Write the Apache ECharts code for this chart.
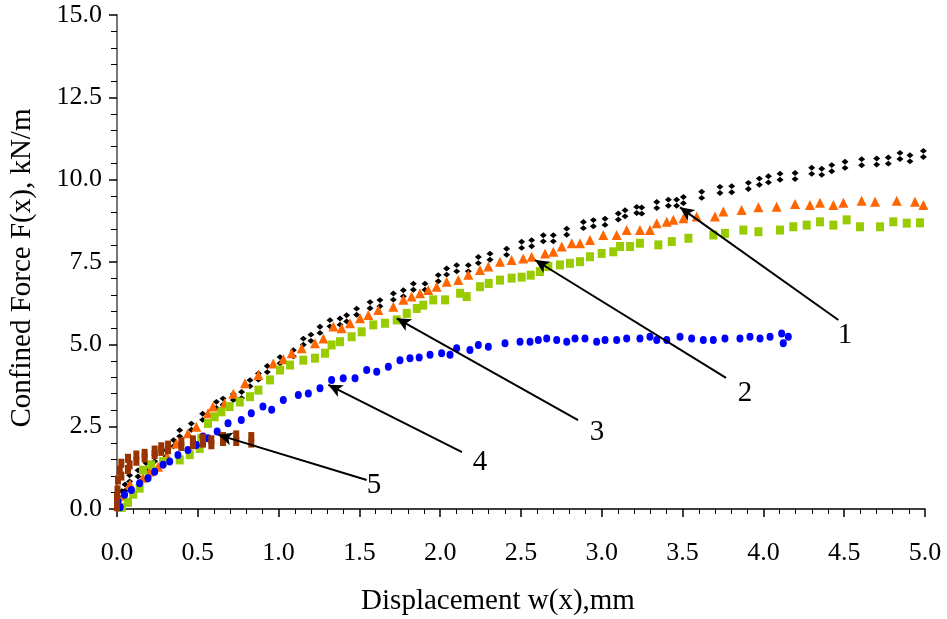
<!DOCTYPE html>
<html>
<head>
<meta charset="utf-8">
<script src="https://cdn.jsdelivr.net/npm/echarts@6/dist/echarts.min.js"></script>
<style>html,body{margin:0;padding:0;background:#fff}#c{width:947px;height:619px}</style>
</head>
<body>
<div id="c"></div>
<script>
// ---- data ----
var xTicks = [0, 0.5, 1.0, 1.5, 2.0, 2.5, 3.0, 3.5, 4.0, 4.5, 5.0];
var yTicks = [0, 2.5, 5.0, 7.5, 10.0, 12.5, 15.0];
var xTitle = 'Displacement w(x),mm';
var yTitle = 'Confined Force F(x), kN/m';

var s1 = [[0.01,0.15],[0.03,0.45],[0.05,0.65],[0.078,0.93],[0.13,1.08],[0.18,1.30],[0.233,1.54],[0.305,1.69],[0.35,2.0],[0.388,2.30],[0.46,2.50],[0.53,2.80],[0.615,3.16],[0.656,3.26],[0.72,3.40],[0.771,3.46],[0.823,3.82],[0.875,4.02],[0.93,4.25],[1.009,4.52],[1.091,4.73],[1.153,5.08],[1.2,5.2],[1.256,5.44],[1.318,5.64],[1.380,5.69],[1.421,5.79],[1.483,5.99],[1.566,6.19],[1.627,6.25],[1.710,6.45],[1.772,6.55],[1.834,6.75],[1.906,6.75],[1.988,7.01],[2.040,7.21],[2.102,7.31],[2.174,7.31],[2.236,7.56],[2.308,7.66],[2.411,7.81],[2.504,8.02],[2.566,8.07],[2.638,8.22],[2.700,8.22],[2.783,8.42],[2.886,8.62],[2.948,8.68],[3.020,8.72],[3.102,8.88],[3.144,8.98],[3.216,9.08],[3.247,9.06],[3.340,9.23],[3.412,9.30],[3.463,9.30],[3.505,9.38],[3.618,9.54],[3.731,9.69],[3.804,9.71],[3.907,9.81],[3.975,9.94],[4.031,10.01],[4.103,10.09],[4.196,10.11],[4.299,10.27],[4.361,10.24],[4.423,10.35],[4.505,10.45],[4.608,10.53],[4.701,10.55],[4.773,10.58],[4.845,10.72],[4.907,10.65],[4.990,10.78]];
var s2 = [[0.01,0.1],[0.04,0.4],[0.08,0.75],[0.161,0.95],[0.202,1.13],[0.254,1.28],[0.31,1.6],[0.367,1.99],[0.439,2.30],[0.491,2.50],[0.563,2.91],[0.594,3.11],[0.666,3.21],[0.72,3.5],[0.792,3.82],[0.875,4.07],[0.967,4.42],[1.03,4.55],[1.081,4.73],[1.143,4.88],[1.225,5.03],[1.277,5.18],[1.339,5.54],[1.390,5.49],[1.442,5.64],[1.504,5.79],[1.555,5.89],[1.617,6.04],[1.710,6.14],[1.772,6.35],[1.823,6.45],[1.875,6.55],[1.926,6.65],[1.978,6.75],[2.040,6.90],[2.112,6.95],[2.174,7.11],[2.246,7.26],[2.298,7.36],[2.370,7.51],[2.442,7.56],[2.514,7.61],[2.566,7.66],[2.649,7.76],[2.700,7.81],[2.752,7.97],[2.814,8.07],[2.865,8.07],[2.927,8.17],[3.009,8.32],[3.092,8.32],[3.154,8.47],[3.236,8.47],[3.298,8.47],[3.340,8.68],[3.402,8.72],[3.443,8.78],[3.505,8.83],[3.587,8.88],[3.700,8.88],[3.752,9.03],[3.865,9.08],[3.969,9.16],[4.082,9.18],[4.196,9.26],[4.288,9.23],[4.350,9.30],[4.433,9.23],[4.495,9.30],[4.608,9.36],[4.691,9.33],[4.825,9.36],[4.938,9.33],[4.990,9.23]];
var s3 = [[0.03,0.05],[0.068,0.2],[0.10,0.45],[0.140,0.63],[0.161,1.18],[0.212,1.34],[0.285,1.44],[0.388,1.49],[0.45,1.65],[0.512,1.84],[0.522,2.15],[0.563,2.60],[0.604,2.80],[0.646,2.95],[0.697,3.11],[0.76,3.25],[0.823,3.41],[0.875,3.61],[0.947,3.92],[1.009,4.22],[1.071,4.37],[1.153,4.52],[1.225,4.58],[1.287,4.73],[1.328,4.98],[1.380,5.08],[1.452,5.23],[1.514,5.38],[1.586,5.59],[1.658,5.64],[1.731,5.74],[1.793,5.94],[1.855,6.09],[1.895,6.19],[1.957,6.35],[2.030,6.35],[2.123,6.55],[2.164,6.45],[2.246,6.75],[2.30,6.85],[2.370,6.95],[2.442,7.01],[2.504,7.04],[2.56,7.10],[2.617,7.21],[2.669,7.36],[2.741,7.41],[2.803,7.46],[2.865,7.51],[2.927,7.66],[2.999,7.76],[3.071,7.81],[3.113,7.97],[3.175,7.97],[3.236,8.07],[3.350,8.02],[3.433,8.12],[3.536,8.22],[3.690,8.32],[3.762,8.37],[3.876,8.47],[3.969,8.42],[4.103,8.47],[4.185,8.57],[4.268,8.62],[4.350,8.72],[4.433,8.62],[4.515,8.78],[4.598,8.57],[4.722,8.57],[4.804,8.72],[4.887,8.68],[4.969,8.69]];
var s4 = [[0.006,0.22],[0.02,0.05],[0.047,0.43],[0.089,0.58],[0.140,0.78],[0.192,0.93],[0.233,1.13],[0.285,1.34],[0.326,1.44],[0.377,1.64],[0.439,1.79],[0.491,1.94],[0.532,2.20],[0.563,2.15],[0.62,2.35],[0.687,2.60],[0.769,2.70],[0.831,2.91],[0.903,3.11],[0.957,3.01],[1.029,3.31],[1.122,3.46],[1.184,3.51],[1.256,3.67],[1.328,3.92],[1.400,3.97],[1.473,3.97],[1.545,4.22],[1.607,4.17],[1.679,4.32],[1.751,4.52],[1.813,4.58],[1.870,4.60],[1.937,4.68],[2.009,4.73],[2.061,4.68],[2.102,4.88],[2.184,4.83],[2.236,4.98],[2.298,4.93],[2.401,5.03],[2.494,5.08],[2.556,5.08],[2.607,5.13],[2.659,5.18],[2.721,5.13],[2.783,5.08],[2.834,5.18],[2.896,5.18],[2.968,5.08],[3.020,5.13],[3.092,5.13],[3.154,5.18],[3.236,5.18],[3.298,5.23],[3.340,5.13],[3.402,5.13],[3.484,5.23],[3.556,5.18],[3.628,5.13],[3.690,5.13],[3.762,5.18],[3.855,5.18],[3.917,5.23],[3.979,5.18],[4.041,5.23],[4.113,5.33],[4.154,5.23],[4.123,5.03]];
var s5 = [[0.0,0.07],[0.0,0.35],[0.003,0.58],[0.006,0.88],[0.017,1.18],[0.027,1.39],[0.027,1.0],[0.068,1.54],[0.068,1.2],[0.078,1.34],[0.120,1.64],[0.120,1.45],[0.171,1.69],[0.171,1.55],[0.233,1.79],[0.233,1.65],[0.274,1.89],[0.274,1.75],[0.316,1.94],[0.316,1.80],[0.398,2.04],[0.398,1.90],[0.470,2.10],[0.470,1.95],[0.532,2.15],[0.532,2.0],[0.584,2.10],[0.584,1.95],[0.656,2.20],[0.656,2.05],[0.738,2.25],[0.738,2.05],[0.831,2.20],[0.831,2.0]];

// annotation arrows: [head, tail] in data coordinates, and number labels
var arrowHeads = [[3.484,9.16],[2.587,7.56],[1.731,5.79],[1.308,3.77],[0.627,2.25]];
var arrowTails = [[4.464,5.74],[3.769,3.98],[2.853,2.70],[2.135,1.73],[1.545,0.88]];
var labelNames = ['1','2','3','4','5'];
var labelPos = [[4.505,5.28],[3.886,3.52],[2.970,2.34],[2.246,1.43],[1.590,0.73]];

// ---- chart ----
var FONT = 'Liberation Serif';
var chart = echarts.init(document.getElementById('c'), null, {renderer: 'canvas'});

var mlData = arrowHeads.map(function (h, i) {
  return [{coord: arrowTails[i]}, {coord: h}];
});

function sc(data, color, symbol, size) {
  return {type: 'scatter', data: data, symbol: symbol, symbolSize: size,
    itemStyle: {color: color, opacity: 1}, silent: true, animation: false};
}

var titles = [
  {type: 'text', x: 498, y: 601,
    style: {text: xTitle, font: '29px ' + FONT, fill: '#000', align: 'center', verticalAlign: 'middle'}},
  {type: 'text', x: 22, y: 268, rotation: Math.PI / 2,
    style: {text: yTitle, font: '29px ' + FONT, fill: '#000', align: 'center', verticalAlign: 'middle'}}
];

chart.setOption({
  animation: false,
  grid: {left: 117, right: 22, top: 15, bottom: 110, containLabel: false},
  xAxis: {
    type: 'value', min: 0, max: 5, interval: 0.5,
    axisLine: {show: true, onZero: false, lineStyle: {color: '#000', width: 1.5}},
    axisTick: {show: true, inside: false, length: 8, lineStyle: {color: '#000', width: 1.5}},
    minorTick: {show: true, splitNumber: 5, length: 5, lineStyle: {color: '#000', width: 1}},
    splitLine: {show: false},
    axisLabel: {margin: 31, fontFamily: FONT, fontSize: 26, color: '#000',
      formatter: function (v) { return v.toFixed(1); }}
  },
  yAxis: {
    type: 'value', min: 0, max: 15, interval: 2.5,
    axisLine: {show: true, onZero: false, lineStyle: {color: '#777', width: 2}},
    axisTick: {show: true, inside: false, length: 8, lineStyle: {color: '#000', width: 1.5}},
    minorTick: {show: true, splitNumber: 5, length: 6, lineStyle: {color: '#000', width: 1}},
    splitLine: {show: false},
    axisLabel: {margin: 15, fontFamily: FONT, fontSize: 26, color: '#000',
      formatter: function (v) { return v.toFixed(1); }}
  },
  graphic: titles,
  series: [
    sc(s1, '#000000', 'path://M2,0 L4,2.2 L2,4.4 L0,2.2 Z M2,4.6 L4,6.8 L2,9 L0,6.8 Z', [7, 12]),
    sc(s2, '#FF6600', 'triangle', [10, 10]),
    sc(s3, '#99CC00', 'rect', [8, 9]),
    sc(s4, '#0000FF', 'circle', [7, 8]),
    sc(s5, '#993300', 'rect', [6, 9]),
    {
      type: 'line', data: [], silent: true, animation: false,
      markLine: {
        silent: true, animation: false, symbol: ['none', 'arrow'], symbolSize: [10, 14],
        label: {show: false},
        lineStyle: {color: '#000', width: 2, type: 'solid', opacity: 1},
        data: mlData
      }
    }
  ]
});

// number labels placed through the chart's own scales
var numLabels = labelPos.map(function (p, i) {
  var px = chart.convertToPixel({gridIndex: 0}, p);
  return {type: 'text', x: px[0], y: px[1], z: 100,
    style: {text: labelNames[i], font: '29px ' + FONT, fill: '#000', align: 'center', verticalAlign: 'middle'}};
});
chart.setOption({graphic: titles.concat(numLabels)});
</script>
</body>
</html>
